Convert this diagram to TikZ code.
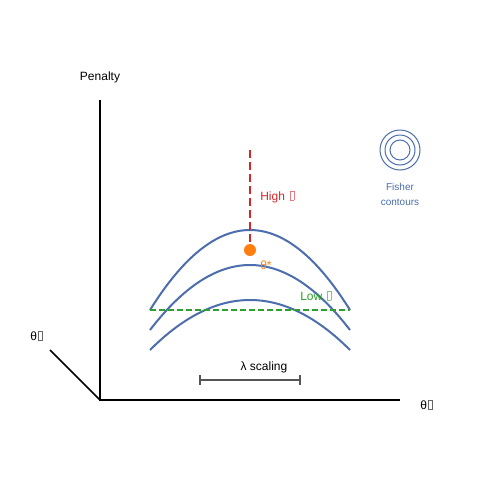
\documentclass[tikz,border=0pt]{standalone}
\usepackage{fontspec}
\setmainfont{Liberation Sans}
\definecolor{curveblue}{HTML}{4C6EAE}
\definecolor{hired}{HTML}{D62728}
\definecolor{dotorange}{HTML}{FF7F0E}
\definecolor{lowgreen}{HTML}{2CA02C}
\definecolor{bargray}{HTML}{555555}
\newcommand\tofubox{\kern1pt{\setlength{\fboxsep}{0pt}\setlength{\fboxrule}{0.3pt}\fbox{\phantom{\rule[0.05em]{0.3em}{0.7em}}}}}
\begin{document}
\begin{tikzpicture}[x=0.75pt,y=-0.75pt,
  axis/.style={black,line width=1.1pt},
  curve/.style={curveblue,line width=1.5pt},
  lbl/.style={inner sep=0pt,font=\fontsize{9}{10}\selectfont},
  small/.style={inner sep=0pt,font=\fontsize{7.5}{9}\selectfont}]
\useasboundingbox[fill=white] (0,0) rectangle (500,500);
% axes
\coordinate (origin) at (100,400);
\coordinate (ytop) at (100,100);
\coordinate (xend) at (400,400);
\coordinate (diag) at (50,350);
\draw[axis] (ytop) -- (origin) -- (xend);
\draw[axis] (diag) -- (origin);
\node[lbl,anchor=base] (penalty) at (100,80) {Penalty};
\node[lbl,anchor=base west] (th2) at (30,340) {θ{\color{black!60}\tofubox}};
\node[lbl,anchor=base west] (th1) at (420,409) {θ{\color{black!60}\tofubox}};
% curves
\coordinate (a1) at (150,310); \coordinate (b1) at (350,310);
\coordinate (a2) at (150,330); \coordinate (b2) at (350,330);
\coordinate (a3) at (150,350); \coordinate (b3) at (350,350);
\draw[curve] (a1) .. controls (216.67,203.33) and (283.33,203.33) .. (b1);
\draw[curve] (a2) .. controls (216.67,243.33) and (283.33,243.33) .. (b2);
\draw[curve] (a3) .. controls (216.67,283.33) and (283.33,283.33) .. (b3);
% high penalty line
\coordinate (htop) at (250,150);
\node[circle,fill=dotorange,inner sep=0pt,minimum size=9pt] (opt) at (250,250) {};
\draw[hired,line width=1.5pt,dash pattern=on 6pt off 3pt] (htop) -- (250,242);
\node[lbl,anchor=base west,text=hired] (high) at (260,200) {High {\color{hired!60}\tofubox}};
\node[lbl,anchor=base west,text=dotorange] (thstar) at (260,269) {θ*};
% low line
\draw[lowgreen,line width=1.5pt,dash pattern=on 4.5pt off 2.25pt] (a1) -- (b1);
\node[lbl,anchor=base west,text=lowgreen] (low) at (300,300) {Low {\color{lowgreen!60}\tofubox}};
% lambda scaling
\coordinate (lam1) at (200,380); \coordinate (lam2) at (300,380);
\draw[bargray,line width=1.1pt] (lam1) -- (lam2);
\draw[bargray,line width=1.1pt] (200,375) -- (200,385);
\draw[bargray,line width=1.1pt] (300,375) -- (300,385);
\node[lbl,anchor=base] (lam) at (264,370) {λ scaling};
% Fisher contours
\node[circle,draw=curveblue,line width=0.75pt,minimum size=30pt,inner sep=0pt] (f1) at (400,150) {};
\node[circle,draw=curveblue,line width=0.75pt,minimum size=22.5pt,inner sep=0pt] (f2) at (400,150) {};
\node[circle,draw=curveblue,line width=0.75pt,minimum size=15pt,inner sep=0pt] (f3) at (400,150) {};
\node[small,anchor=base,text=curveblue] (fisher) at (400,190) {Fisher};
\node[small,anchor=base,text=curveblue] (contours) at (400,205) {contours};
\end{tikzpicture}
\end{document}
